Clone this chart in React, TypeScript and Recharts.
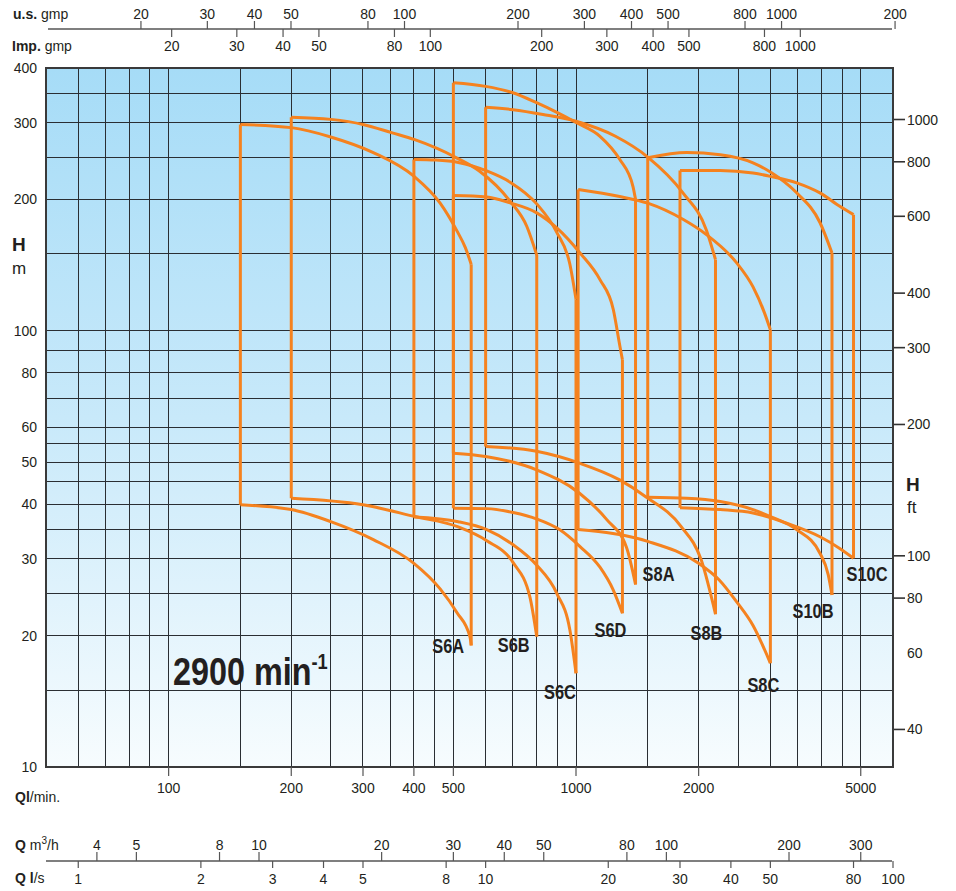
import React from 'react';
import { LineChart, Line, XAxis, YAxis, CartesianGrid, ReferenceArea, LabelList } from 'recharts';

// ---------------- axes / ticks ----------------
const flowRangeLpm = [50, 6000];
const headRangeM = [10, 400];
const flowTicksLpm = [100, 200, 300, 400, 500, 1000, 2000, 5000];
const flowGridLpm = [60, 70, 80, 90, 100, 150, 200, 250, 300, 350, 400, 450, 500, 600, 700, 800, 900, 1000, 1500, 2000, 2500, 3000, 3500, 4000, 4500, 5000];
const headTicksM = [10, 20, 30, 40, 50, 60, 80, 100, 200, 300, 400];
const headGridM = [15, 20, 25, 30, 35, 40, 45, 50, 55, 60, 70, 80, 90, 100, 150, 200, 250, 300, 350];
const headTicksFt = [40, 60, 80, 100, 200, 300, 400, 600, 800, 1000];
const m3hTicks = [4, 5, 8, 10, 20, 30, 40, 50, 80, 100, 200, 300];
const lsTicks = [1, 2, 3, 4, 5, 8, 10, 20, 30, 40, 50, 80, 100];
const usGpmTicks = [20, 30, 40, 50, 80, 100, 200, 300, 400, 500, 800, 1000, 2000];
const usGpmLabels = ['20', '30', '40', '50', '80', '100', '200', '300', '400', '500', '800', '1000', '200'];
const usGpmRange = [11.2, 1975];
const impGpmTicks = [20, 30, 40, 50, 80, 100, 200, 300, 400, 500, 800, 1000];
const impGpmRange = [9.15, 1780];

// ---------------- pump ranges: [Q l/min, H m] ----------------
type Pt = [number, number];
const s6aTop: Pt[] = [[150, 297], [200, 292], [250, 278], [318, 256], [400, 226], [464, 196], [509, 170], [535, 155], [553, 142]];
const s6aBottom: Pt[] = [[150, 39.9], [200, 38.9], [250, 36.5], [318, 33.2], [400, 29.3], [464, 25.6], [510, 22.6], [549, 19.9], [553, 19.0]];
const s6bTop: Pt[] = [[200, 308.5], [250, 305], [300, 297], [354, 284], [402, 274], [509, 249], [580, 232], [689, 198], [757, 173.5], [801, 149]];
const s6bBottom: Pt[] = [[200, 41.3], [300, 39.9], [402, 37.5], [514, 35.5], [604, 33.0], [701, 29.4], [770, 24.6], [801, 19.9]];
const s6cTop: Pt[] = [[400, 246.8], [453, 246], [514, 243], [606, 232], [689, 219], [802, 195], [897, 168], [966, 142], [1000, 118]];
const s6cBottom: Pt[] = [[400, 37.4], [514, 36.5], [604, 35.0], [701, 32.3], [801, 29.0], [897, 25.0], [966, 20.6], [1000, 16.4]];
const s6dTop: Pt[] = [[500, 204], [604, 202.6], [689, 196.3], [801, 186.2], [897, 172], [1023, 150.7], [1145, 130.9], [1235, 111.7], [1282, 92], [1300, 85.8]];
const s6dBottom: Pt[] = [[500, 39.2], [604, 39.1], [701, 38.3], [802, 37.0], [911, 35.0], [1023, 32.0], [1145, 28.7], [1233, 25.5], [1300, 22.5]];
const s8aTop: Pt[] = [[500, 370], [600, 363], [700, 351], [800, 333], [900, 316], [1000, 300], [1145, 279], [1280, 247], [1380, 214], [1400, 200]];
const s8aBottom: Pt[] = [[500, 52.4], [600, 51.5], [800, 48.0], [1020, 42.4], [1190, 36.9], [1330, 31.9], [1400, 26.2]];
const s8bTop: Pt[] = [[600, 325], [700, 321], [830, 313], [1000, 302], [1250, 279], [1500, 250], [1830, 207], [2090, 170], [2200, 145.5]];
const s8bBottom: Pt[] = [[600, 54.3], [800, 52.9], [1020, 49.7], [1280, 45.5], [1480, 41.7], [1810, 35.6], [2030, 29.8], [2200, 22.4]];
const s8cTop: Pt[] = [[1012, 210.6], [1280, 203], [1500, 196], [1830, 180], [2090, 166], [2480, 143], [2720, 126], [2900, 110], [3000, 100.5]];
const s8cBottom: Pt[] = [[1012, 35.0], [1500, 32.9], [2000, 29.3], [2250, 26.8], [2480, 23.9], [2720, 21.1], [3000, 17.3]];
const s10bTop: Pt[] = [[1500, 249], [1870, 256], [2260, 253], [2720, 242.5], [3000, 231], [3480, 207], [3970, 177], [4250, 150.7]];
const s10bBottom: Pt[] = [[1500, 41.5], [1870, 41.3], [2260, 40.6], [2720, 38.9], [3000, 37.5], [3480, 35.0], [3970, 30.9], [4160, 27.6], [4250, 24.8]];
const s10cTop: Pt[] = [[1800, 233], [2260, 233], [2720, 229.8], [3000, 225.8], [3480, 218.2], [3970, 206.9], [4440, 192.8], [4800, 184.5]];
const s10cBottom: Pt[] = [[1800, 39.3], [2260, 38.9], [2720, 38.2], [3290, 36.2], [3970, 33.7], [4440, 31.7], [4800, 30.1]];

const pumpNames = ['S6A', 'S6B', 'S6C', 'S6D', 'S8A', 'S8B', 'S8C', 'S10B', 'S10C'];
const pumpTops = [s6aTop, s6bTop, s6cTop, s6dTop, s8aTop, s8bTop, s8cTop, s10bTop, s10cTop];
const pumpBottoms = [s6aBottom, s6bBottom, s6cBottom, s6dBottom, s8aBottom, s8bBottom, s8cBottom, s10bBottom, s10cBottom];

// ---------------- styling ----------------
const FONT = "'Liberation Sans', Arial, Helvetica, sans-serif";
const TEXT = '#231f20';
const ORANGE = '#f5821f';
const GRID = '#2a2e33';
const labelOffset: Record<string, [number, number]> = {
  S6A: [-23, 0], S6B: [-23, 8], S6C: [-16, 18], S6D: [-12, 16.5], S8A: [23, -10.5],
  S8B: [-9, 18], S8C: [-7, 21], S10B: [-19, 16], S10C: [13.5, 15.5],
};

const rows = (pts: Pt[]) => pts.map(([q, h]) => ({ q, h }));

const CondText = ({ x, y, size, children, scale = 0.82, anchor = 'middle' }: any) => (
  <text transform={`translate(${x},${y}) scale(${scale},1)`} x={0} y={0} textAnchor={anchor}
    fontFamily={FONT} fontWeight={700} fontSize={size} fill={TEXT}>{children}</text>
);

const fmt = (v: number) => String(Math.round(v * 100) / 100);

const FlowTick = (p: any) => (
  <g>
    <line x1={p.x} x2={p.x} y1={767} y2={776} stroke="#555" strokeWidth={1.2} />
    <text x={p.x} y={793} textAnchor="middle" fontFamily={FONT} fontSize={14} fill={TEXT}>{p.payload.value}</text>
  </g>
);
const M3hTick = (p: any) => (
  <g>
    <line x1={p.x} x2={p.x} y1={852} y2={861} stroke="#555" strokeWidth={1.2} />
    <text x={p.x} y={850} textAnchor="middle" fontFamily={FONT} fontSize={14} fill={TEXT}>{fmt(p.payload.value * 60 / 1000)}</text>
  </g>
);
const LsTick = (p: any) => (
  <g>
    <line x1={p.x} x2={p.x} y1={861} y2={868} stroke="#555" strokeWidth={1.2} />
    <text x={p.x} y={884} textAnchor="middle" fontFamily={FONT} fontSize={14} fill={TEXT}>{fmt(p.payload.value / 60)}</text>
  </g>
);
const UsTick = (p: any) => (
  <g>
    <line x1={p.x} x2={p.x} y1={21} y2={29} stroke="#555" strokeWidth={1.2} />
    <text x={p.x} y={19} textAnchor="middle" fontFamily={FONT} fontSize={14} fill={TEXT}>{usGpmLabels[usGpmTicks.indexOf(p.payload.value)]}</text>
  </g>
);
const ImpTick = (p: any) => (
  <g>
    <line x1={p.x} x2={p.x} y1={29} y2={37} stroke="#555" strokeWidth={1.2} />
    <text x={p.x} y={51} textAnchor="middle" fontFamily={FONT} fontSize={14} fill={TEXT}>{p.payload.value}</text>
  </g>
);
const MTick = (p: any) => (
  <text x={37} y={p.y + 5} textAnchor="end" fontFamily={FONT} fontSize={14} fill={TEXT}>{p.payload.value}</text>
);
const FtTick = (p: any) => (
  <g>
    {p.payload.value !== 60 && <line x1={894} x2={905} y1={p.y} y2={p.y} stroke="#333" strokeWidth={1.6} />}
    <text x={907} y={p.y + 5} textAnchor="start" fontFamily={FONT} fontSize={14} fill={TEXT}>{p.payload.value}</text>
  </g>
);

const commonLine = { dot: false, activeDot: false, isAnimationActive: false, dataKey: 'h', xAxisId: 'q', yAxisId: 'm' } as const;
const dummy = [{ q: 100, h: 20 }, { q: 200, h: 20 }];

export default function App() {
  const series: React.ReactNode[] = [];
  pumpNames.forEach((name, i) => {
    const top = pumpTops[i];
    const bot = pumpBottoms[i];
    const left = [{ q: bot[0][0], h: bot[0][1] }, { q: top[0][0], h: top[0][1] }];
    const endH = bot[bot.length - 1][1];
    const right = [{ q: top[top.length - 1][0], h: top[top.length - 1][1] }, { q: bot[bot.length - 1][0], h: endH }];
    const [dx, dy] = labelOffset[name];
    series.push(<Line key={name + 'L'} {...commonLine} data={left} type="linear" stroke={ORANGE} strokeWidth={3} />);
    series.push(<Line key={name + 'T'} {...commonLine} data={rows(top)} type="monotoneX" stroke={ORANGE} strokeWidth={3} />);
    series.push(<Line key={name + 'B'} {...commonLine} data={rows(bot)} type="monotoneX" stroke={ORANGE} strokeWidth={3} />);
    series.push(
      <Line key={name + 'R'} {...commonLine} data={right} type="linear" stroke={ORANGE} strokeWidth={3}>
        <LabelList dataKey="h" content={(p: any) => (p.value === endH ?
          <CondText x={p.x + dx} y={p.y + dy + 7.5} size={20}>{name}</CondText> : null
        )} />
      </Line>
    );
  });

  return (
    <div style={{ position: 'absolute', left: 0, top: 0, width: 956, height: 891, background: '#fff' }}>
      <LineChart width={956} height={891} margin={{ top: 0, right: 0, bottom: 0, left: 0 }}>
        <defs>
          <linearGradient id="bgGrad" x1="0" y1="0" x2="0" y2="1">
            <stop offset="0%" stopColor="#a6dcf7" />
            <stop offset="50%" stopColor="#c8e9fa" />
            <stop offset="100%" stopColor="#f7fcfe" />
          </linearGradient>
        </defs>
        <XAxis xAxisId="imp" orientation="top" dataKey="q" type="number" scale="log" domain={impGpmRange} allowDataOverflow
          ticks={impGpmTicks} interval={0} height={39} axisLine={false} tickLine={false} tickSize={0} tick={ImpTick} />
        <XAxis xAxisId="us" orientation="top" dataKey="q" type="number" scale="log" domain={usGpmRange} allowDataOverflow
          ticks={usGpmTicks} interval={0} height={29} axisLine={false} tickLine={false} tickSize={0} tick={UsTick} />
        <XAxis xAxisId="q" dataKey="q" type="number" scale="log" domain={flowRangeLpm} allowDataOverflow
          ticks={flowTicksLpm} interval={0} height={70} axisLine={false} tickLine={false} tickSize={0} tick={FlowTick} />
        <XAxis xAxisId="m3h" dataKey="q" type="number" scale="log" domain={flowRangeLpm} allowDataOverflow
          ticks={m3hTicks.map(v => v * 1000 / 60)} interval={0} height={24} axisLine={false} tickLine={false} tickSize={0} tick={M3hTick} />
        <XAxis xAxisId="ls" dataKey="q" type="number" scale="log" domain={flowRangeLpm} allowDataOverflow
          ticks={lsTicks.map(v => v * 60)} interval={0} height={30} axisLine={false} tickLine={false} tickSize={0} tick={LsTick} />
        <YAxis yAxisId="m" type="number" scale="log" domain={headRangeM} allowDataOverflow ticks={headTicksM} interval={0}
          width={46} axisLine={false} tickLine={false} tickSize={0} tick={MTick} />
        <YAxis yAxisId="ft" orientation="right" type="number" scale="log" domain={[headRangeM[0] / 0.3048, headRangeM[1] / 0.3048]}
          allowDataOverflow ticks={headTicksFt} interval={0} width={63} axisLine={false} tickLine={false} tickSize={0} tick={FtTick} />
        <CartesianGrid xAxisId="q" yAxisId="m" fill="url(#bgGrad)" fillOpacity={1} stroke={GRID} strokeWidth={1}
          shapeRendering="crispEdges" horizontalValues={headGridM} verticalValues={flowGridLpm} />

        {/* invisible series binding auxiliary axes */}
        <Line data={dummy} dataKey="h" xAxisId="us" yAxisId="m" stroke="none" dot={false} activeDot={false} isAnimationActive={false} />
        <Line data={dummy} dataKey="h" xAxisId="imp" yAxisId="m" stroke="none" dot={false} activeDot={false} isAnimationActive={false} />
        <Line data={dummy} dataKey="h" xAxisId="m3h" yAxisId="m" stroke="none" dot={false} activeDot={false} isAnimationActive={false} />
        <Line data={dummy} dataKey="h" xAxisId="ls" yAxisId="m" stroke="none" dot={false} activeDot={false} isAnimationActive={false} />
        <Line data={dummy} dataKey="h" xAxisId="q" yAxisId="ft" stroke="none" dot={false} activeDot={false} isAnimationActive={false} />

        {series}

        <ReferenceArea xAxisId="q" yAxisId="m" x1={flowRangeLpm[0]} x2={flowRangeLpm[1]} y1={headRangeM[0]} y2={headRangeM[1]}
          fill="none" stroke="#3a3a3a" strokeWidth={2} ifOverflow="visible" />

        {/* auxiliary axis lines */}
        <line x1={48} x2={892} y1={29} y2={29} stroke="#555" strokeWidth={1.3} />
        <line x1={46} x2={892} y1={861} y2={861} stroke="#555" strokeWidth={1.3} />

        {/* axis titles */}
        <text x={13} y={19} fontFamily={FONT} fontSize={14} fill={TEXT}><tspan fontWeight={700}>u.s.</tspan> gmp</text>
        <text x={12} y={51} fontFamily={FONT} fontSize={14} fill={TEXT}><tspan fontWeight={700}>Imp.</tspan> gmp</text>
        <text x={15} y={802} fontFamily={FONT} fontSize={14} fill={TEXT}><tspan fontWeight={700}>Ql</tspan>/min.</text>
        <text x={15} y={850} fontFamily={FONT} fontSize={14} fill={TEXT}><tspan fontWeight={700}>Q</tspan> m<tspan fontSize={10} dy={-6}>3</tspan><tspan dy={6}>/h</tspan></text>
        <text x={15} y={883} fontFamily={FONT} fontSize={14} fill={TEXT}><tspan fontWeight={700}>Q l</tspan>/s</text>
        <text x={12} y={251} fontFamily={FONT} fontSize={19} fontWeight={700} fill={TEXT}>H</text>
        <text x={12} y={274} fontFamily={FONT} fontSize={17} fill={TEXT}>m</text>
        <text x={906} y={491} fontFamily={FONT} fontSize={19} fontWeight={700} fill={TEXT}>H</text>
        <text x={907} y={513} fontFamily={FONT} fontSize={17} fill={TEXT}>ft</text>
        <CondText x={173} y={685} size={39} scale={0.83} anchor="start">2900 min<tspan fontSize={22} dy={-16}>-1</tspan></CondText>
      </LineChart>
    </div>
  );
}
